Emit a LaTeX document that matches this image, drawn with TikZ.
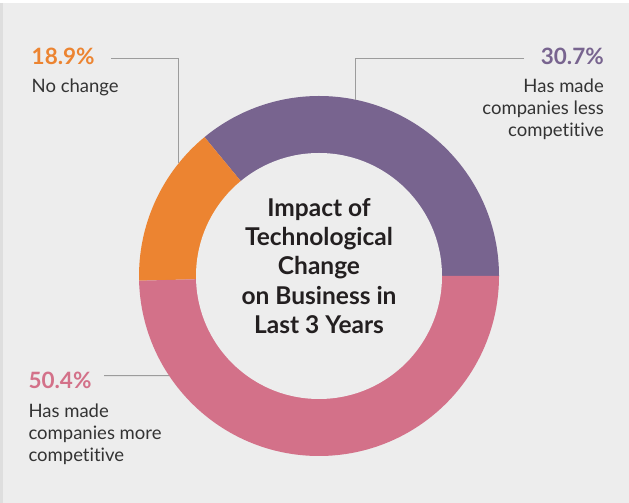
\documentclass[tikz,border=0pt]{standalone}
\usepackage{fontspec}
\setmainfont{Lato}[Ligatures={NoCommon}]
\usepackage{xcolor}
\usetikzlibrary{calc}
\definecolor{bggray}{HTML}{EDEDED}
\definecolor{edgegray}{HTML}{DEDEDE}
\definecolor{purpleseg}{HTML}{78648F}
\definecolor{orangeseg}{HTML}{EC8431}
\definecolor{pinkseg}{HTML}{D37189}
\definecolor{leadergray}{HTML}{9C9C9C}
\definecolor{textgray}{HTML}{333333}
\definecolor{titleblack}{HTML}{231F20}

\tikzset{
  pct/.style={inner sep=0pt, font=\bfseries\fontsize{22.5}{22}\selectfont},
  desc/.style={inner sep=0pt, text=textgray, font=\fontsize{18.5}{22}\selectfont},
  title/.style={inner sep=0pt, text=titleblack, align=center, font=\bfseries\fontsize{24.5}{29.2}\selectfont},
  leader/.style={draw=leadergray, line width=0.9pt}
}

\begin{document}
\begin{tikzpicture}[x=1pt, y=1pt]
% page and edges
\fill[bggray] (0,0) rectangle (629,503);
\fill[white] (0,500) rectangle (629,503);
\fill[edgegray] (0,0) rectangle (3,500);
\useasboundingbox (0,0) rectangle (629,503);

% donut
\coordinate (c) at (319,227);
\fill[purpleseg] (c) -- ++(0:180) arc[start angle=0, end angle=129.5, radius=180pt] -- cycle;
\fill[orangeseg] (c) -- ++(129.5:180) arc[start angle=129.5, end angle=181.5, radius=180pt] -- cycle;
\fill[pinkseg] (c) -- ++(181.5:180) arc[start angle=181.5, end angle=360, radius=180pt] -- cycle;
\fill[bggray] (c) circle[radius=123pt];

% title (base = last line)
\node[title, anchor=base] (title) at (319,169.7)
  {Impact of\\Technological\\Change\\on Business in\\Last 3 Years};

% labels
\node[pct, text=orangeseg, anchor=base west] (nochangepct) at (31.5,438) {18.9\%};
\node[desc, anchor=base west] (nochange) at (31.5,410.7) {No change};

\node[pct, text=purpleseg, anchor=base east] (lesspct) at (604,438) {30.7\%};
\node[desc, align=right, anchor=base east] (less) at (604,366.3)
  {Has made\\companies less\\competitive};

\node[pct, text=pinkseg, anchor=base west] (morepct) at (28.3,114.7) {50.4\%};
\node[desc, align=left, anchor=base west] (more) at (28.3,41.3)
  {Has made\\companies more\\competitive};

% leader lines
\coordinate (nochangeend) at (111,444.7);
\coordinate (nochangept) at ($(c)+(141.3:180)$);
\coordinate (lessend) at (524,444.7);
\coordinate (lesspt) at ($(c)+(78.3:180)$);
\coordinate (moreend) at (104,127.3);
\coordinate (morept) at ($(c)+(213.6:180)$);
\draw[leader] (nochangeend) -| (nochangept);
\draw[leader] (lessend) -| (lesspt);
\draw[leader] (moreend) -- (morept);
\end{tikzpicture}
\end{document}
